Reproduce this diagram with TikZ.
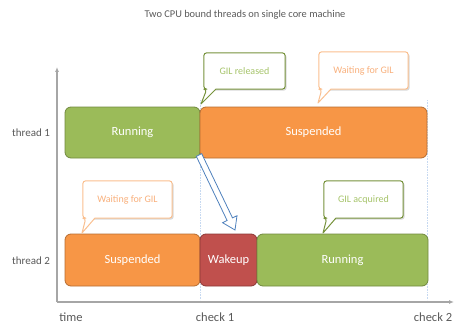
\documentclass[tikz,border=0pt]{standalone}
\usepackage{fontspec}
\setmainfont{Carlito}
\usetikzlibrary{calc,arrows.meta}
\definecolor{runfill}{HTML}{9BBB59}
\definecolor{runline}{HTML}{71893F}
\definecolor{susfill}{HTML}{F79646}
\definecolor{susline}{HTML}{B66D31}
\definecolor{wakefill}{HTML}{C0504D}
\definecolor{wakeline}{HTML}{8C3836}
\definecolor{callgreen}{HTML}{77933C}
\definecolor{callgreentext}{HTML}{A6C46A}
\definecolor{callorange}{HTML}{FAC090}
\definecolor{callorangetext}{HTML}{F9B07C}
\definecolor{axisgray}{HTML}{A6A6A6}
\definecolor{labelgray}{HTML}{595959}
\definecolor{checkblue}{HTML}{C6D9F1}
\definecolor{arrowblue}{HTML}{4F81BD}
\definecolor{shadowgray}{HTML}{D9D9D9}
\begin{document}
\begin{tikzpicture}[x=1pt,y=-1pt,
  bar/.style={draw, line width=0.8pt, rounded corners=6pt, inner sep=0pt,
    text=white, font=\fontsize{12.5}{14}\selectfont},
  runbar/.style={bar, fill=runfill, draw=runline},
  susbar/.style={bar, fill=susfill, draw=susline},
  wakebar/.style={bar, fill=wakefill, draw=wakeline},
  calltext/.style={inner sep=0pt, font=\fontsize{10}{12}\selectfont},
  callbox/.style={fill=white, line width=1pt, line join=round},
  axislabel/.style={text=labelgray, font=\fontsize{12.5}{14}\selectfont},
  rowlabel/.style={text=labelgray, font=\fontsize{11}{13}\selectfont},
  checkline/.style={draw=checkblue, densely dotted, line width=0.6pt}
]
\useasboundingbox (0,0) rectangle (454,326);

% title
\node[text=labelgray, font=\fontsize{10.4}{12}\selectfont] (title) at (245,15)
  {Two CPU bound threads on single core machine};

% axes
\coordinate (origin) at (57,302);
\coordinate (ytop) at (57,67);
\coordinate (xend) at (454,302);
\draw[axisgray, line width=1.2pt, -{Latex[length=5pt,width=4pt]}] (origin) -- (ytop);
\draw[axisgray, line width=1.2pt, -{Latex[length=5pt,width=4pt]}] (origin) -- (xend);

% check marks on the time line
\coordinate (c1top) at (200,100);
\coordinate (c1bot) at (200,300);
\coordinate (c2top) at (427,100);
\coordinate (c2bot) at (427,300);
\draw[checkline] (c1top) -- (c1bot);
\draw[checkline] (c2top) -- (c2bot);

% axis labels
\node[axislabel] (ltime) at (71,317) {time};
\node[axislabel] (lcheck1) at (215,317) {check 1};
\node[axislabel] (lcheck2) at (433,317) {check 2};
\node[rowlabel] (lthread1) at (31,133) {thread 1};
\node[rowlabel] (lthread2) at (31,261) {thread 2};

% thread 1
\node[runbar, minimum width=135pt, minimum height=51pt] (run1) at (132.5,132.5) {Running};
\node[susbar, minimum width=227pt, minimum height=51pt] (sus1) at (313.5,132.5) {Suspended};

% thread 2
\node[susbar, minimum width=135pt, minimum height=52pt] (sus2) at (132.5,260) {Suspended};
\node[wakebar, minimum width=57pt, minimum height=52pt] (wake2) at (228.5,260) {Wakeup};
\node[runbar, minimum width=171pt, minimum height=52pt] (run2) at (342.5,260) {Running};

% hand-over arrow from thread 1 to thread 2
\draw[arrowblue, fill=white, line width=0.8pt, line join=miter]
  (201.7,153.7) -- (232.5,217.9) -- (237.0,215.7) -- (235,230)
  -- (222.6,222.7) -- (227.1,220.5) -- (196.3,156.3) -- cycle;

% callouts: name, centre, width, height, tip, line colour, text colour, text
\newcommand{\mycallout}[8]{%
  \node[calltext, minimum width=#3, minimum height=#4] (#1) at #2 {};
  \fill[shadowgray, rounded corners=3pt]
    ($(#1.south west)+(2,1.5)$) rectangle ($(#1.north east)+(1.5,1.5)$);
  \draw[callbox, draw=#6]
    ($(#1.south west)+(12,0)$) [rounded corners=3pt] -- (#1.south east) -- (#1.north east)
    -- (#1.north west) -- (#1.south west) -- ($(#1.south west)+(3,0)$) [sharp corners]
    -- #5 -- cycle;
  \node[calltext, text=#7] at (#1.center) {#8};
}
\mycallout{released}{(244.5,71)}{81pt}{36pt}{(201,104)}{callgreen}{callgreentext}{GIL released}
\mycallout{wait1}{(363.5,70.5)}{89pt}{37pt}{(318,103)}{callorange}{callorangetext}{Waiting for GIL}
\mycallout{wait2}{(127.5,199.5)}{89pt}{37pt}{(82,233)}{callorange}{callorangetext}{Waiting for GIL}
\mycallout{acquired}{(363.5,199.5)}{79pt}{37pt}{(323,233)}{callgreen}{callgreentext}{GIL acquired}
\end{tikzpicture}
\end{document}
